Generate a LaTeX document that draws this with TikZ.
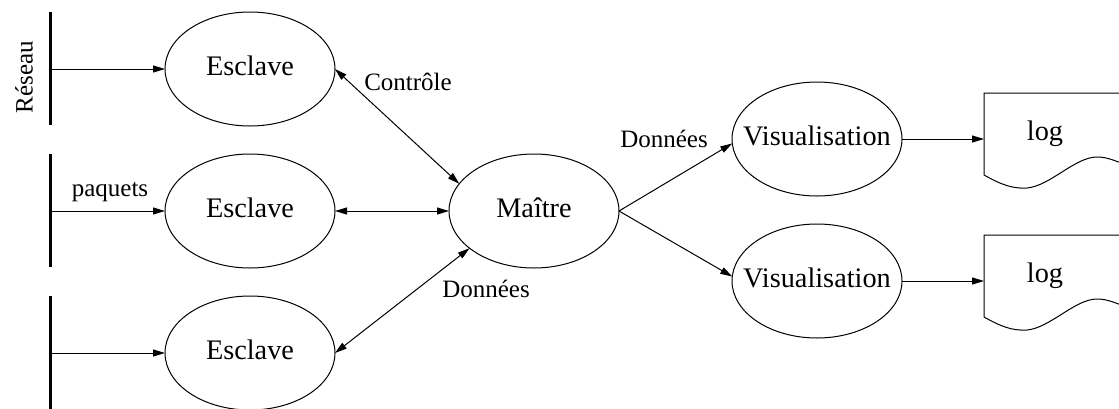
\documentclass[tikz,border=0pt]{standalone}
\usepackage{fontspec}
\setmainfont{Liberation Serif}
\usetikzlibrary{shapes}
\usetikzlibrary{calc}
\usetikzlibrary{arrows.meta}

\begin{document}
\begin{tikzpicture}[x=0.5pt, y=-0.5pt,
	big/.style={font=\fontsize{14.15}{17}\selectfont},
	lbl/.style={font=\fontsize{12.5}{15}\selectfont},
	proc/.style={draw, ellipse, line width=0.5pt, minimum width=85pt, minimum height=57pt, inner sep=0pt, outer sep=0pt, label={[big, yshift=1.4pt]center:#1}},
	fl/.style={-{Triangle[length=6pt, width=3.5pt]}, line width=0.5pt},
	bifl/.style={{Triangle[length=6pt, width=3.5pt]}-{Triangle[length=6pt, width=3.5pt]}, line width=0.5pt},
	bus/.style={line width=1.5pt}]
			\useasboundingbox (0,0) rectangle (1119,408);

			\foreach \i/\y in {1/69, 2/211, 3/353}
			{
				\draw[bus] (50,\y-57) -- (50,\y+56);
				\coordinate (r\i) at (51,\y);
				\node[proc=Esclave] (e\i) at (250,\y) {};
				\draw[fl] (r\i) -- (e\i.west);
			}

			\node[proc=Maître] (m) at (534,211) {};
			\node[proc=Visualisation] (v1) at (817,139) {};
			\node[proc=Visualisation] (v2) at (817,281) {};

			\draw[bifl] (e1.east) -- (m.160);
			\draw[bifl] (e2.east) -- (m.west);
			\draw[bifl] (e3.east) -- (m.210);
			\draw[fl] (m.east) -- (v1.183);
			\draw[fl] (m.east) -- (v2.177);

			\foreach \i/\y in {1/93, 2/235}
			{
				\draw[line width=0.5pt] (1135,\y) -- (984,\y) -- (984,\y+82)
					.. controls (1000,\y+91) and (1012,\y+96) .. (1027,\y+95)
					.. controls (1050,\y+93) and (1075,\y+64) .. (1097,\y+64)
					.. controls (1108,\y+64) and (1115,\y+68) .. (1135,\y+75);
				\coordinate (in\i) at (984,\y+46);
				\node[big] (log\i) at (1045,\y+41) {log};
				\draw[fl] (v\i.east) -- (in\i);
			}

			\node[lbl, rotate=90] (reseau) at (24,77) {Réseau};
			\node[lbl, anchor=base] (paq) at (110,196) {paquets};
			\node[lbl, anchor=base] (ctrl) at (408,90) {Contrôle};
			\node[lbl, anchor=base] (don1) at (486,297) {Données};
			\node[lbl, anchor=base] (don2) at (664,147) {Données};
		\end{tikzpicture}
\end{document}
